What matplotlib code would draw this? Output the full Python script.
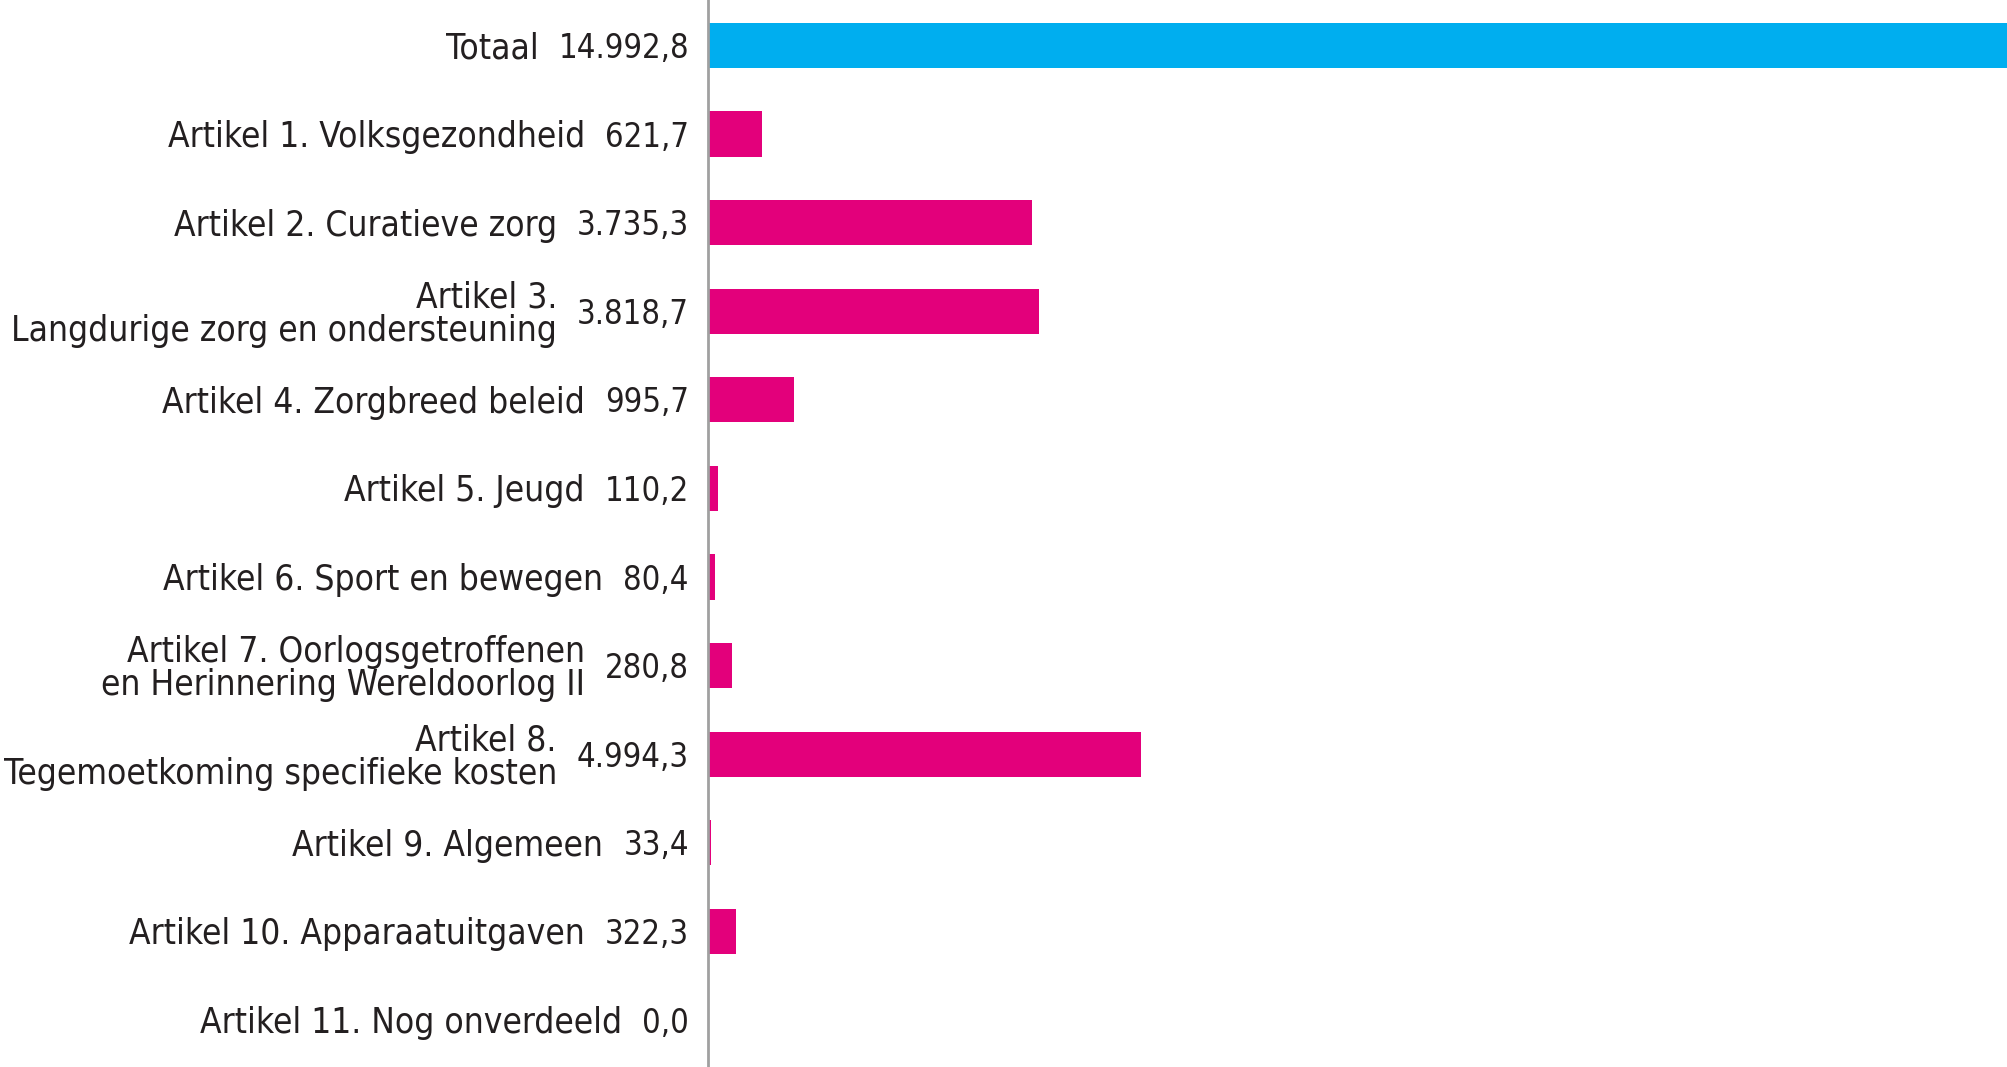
import matplotlib
matplotlib.use('Agg')
import matplotlib.pyplot as plt

labels = ['Totaal',
          'Artikel 1. Volksgezondheid',
          'Artikel 2. Curatieve zorg',
          'Artikel 3.\nLangdurige zorg en ondersteuning',
          'Artikel 4. Zorgbreed beleid',
          'Artikel 5. Jeugd',
          'Artikel 6. Sport en bewegen',
          'Artikel 7. Oorlogsgetroffenen\nen Herinnering Wereldoorlog II',
          'Artikel 8.\nTegemoetkoming specifieke kosten',
          'Artikel 9. Algemeen',
          'Artikel 10. Apparaatuitgaven',
          'Artikel 11. Nog onverdeeld']
values = [14992.8, 621.7, 3735.3, 3818.7, 995.7, 110.2, 80.4, 280.8, 4994.3, 33.4, 322.3, 0.0]
value_text = ['14.992,8', '621,7', '3.735,3', '3.818,7', '995,7', '110,2', '80,4',
              '280,8', '4.994,3', '33,4', '322,3', '0,0']

blue = '#00aeef'
pink = '#e3007b'
txt = '#231f20'
plt.rcParams['font.family'] = ['DejaVu Sans']
plt.rcParams['font.stretch'] = 'condensed'

fig = plt.figure(figsize=(20.08, 10.67), dpi=100)
ax = fig.add_axes([708/2008, 0, 1 - 708/2008, 1])
ys = list(range(len(values)))
cols = [blue] + [pink] * (len(values) - 1)
ax.barh(ys, values, height=0.51, color=cols)
ax.set_xlim(0, values[0])
ax.set_ylim(11.53, -0.513)
for s in ['top', 'right', 'bottom']:
    ax.spines[s].set_visible(False)
ax.spines['left'].set_color('#a0a0a0')
ax.spines['left'].set_linewidth(2)
ax.set_xticks([])
ax.set_yticks([])

renderer = fig.canvas.get_renderer()
x_val = 689 / 2008
for y, lab, vt in zip(ys, labels, value_text):
    ty = (ax.transData.transform((0, y))[1] - 3) / fig.bbox.height
    t = fig.text(x_val, ty, vt, ha='right', va='center', fontsize=23.5, color=txt,
                 fontstretch='condensed')
    bb = t.get_window_extent(renderer)
    x_lab = (bb.x0 - 20) / fig.bbox.width
    fig.text(x_lab, ty, lab, ha='right', va='center', fontsize=25.3, color=txt,
             multialignment='right', linespacing=0.97, fontstretch='condensed')

fig.savefig('out.png', dpi=100)
